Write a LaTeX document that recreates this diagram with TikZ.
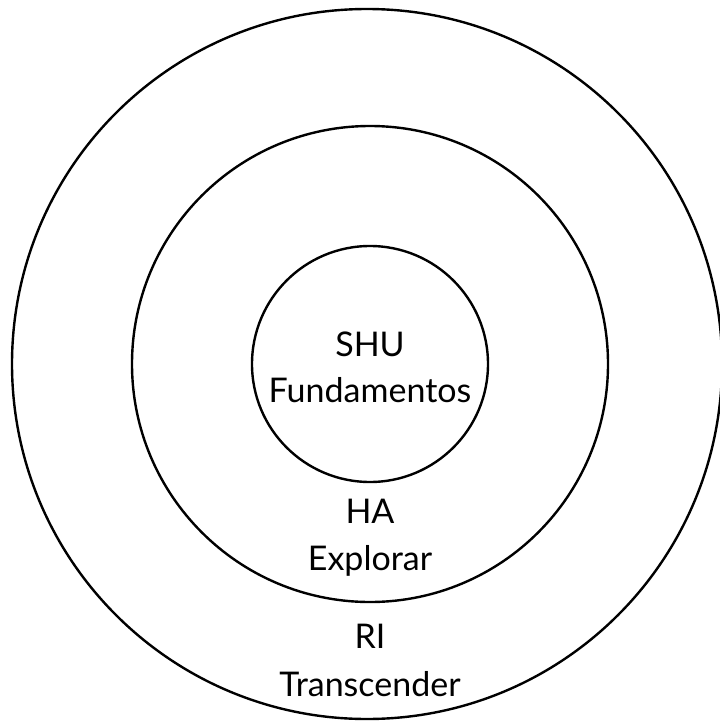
\documentclass[tikz,border=0pt]{standalone}
\usepackage{fontspec}
\setmainfont{Lato}
\usetikzlibrary{positioning}

\tikzset{
  ring/.style={circle, draw=black, line width=2.4pt, inner sep=0pt, outer sep=0pt},
  lbl/.style={font=\fontsize{34}{40}\selectfont, inner sep=0pt, anchor=base}
}

\begin{document}
\begin{tikzpicture}[x=1pt,y=-1pt]
\useasboundingbox (0,0) rectangle (720,723);
\node[ring, minimum size=710pt] (ri) at (367,364) {};
\node[ring, minimum size=476pt] (ha) at (370,364) {};
\node[ring, minimum size=236pt] (shu) at (370,364) {};
\node[lbl] (shutitle) at (370,356) {SHU};
\node[lbl] (shutext) at (370,402) {Fundamentos};
\node[lbl] (hatitle) at (370,523) {HA};
\node[lbl] (hatext) at (370,570) {Explorar};
\node[lbl] (rititle) at (370,648) {RI};
\node[lbl] (ritext) at (370,696) {Transcender};
\end{tikzpicture}
\end{document}
